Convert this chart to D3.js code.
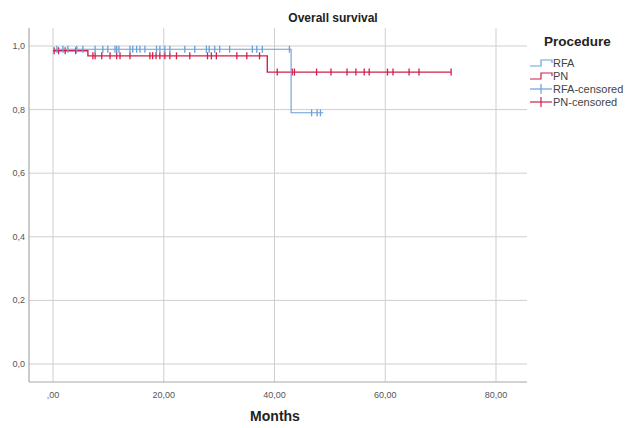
<!DOCTYPE html>
<html>
<head>
<meta charset="utf-8">
<script src="https://cdn.jsdelivr.net/npm/d3@7"></script>
<style>
  body { margin: 0; background: #fff; }
  svg { font-family: Arial, "Liberation Sans", sans-serif; }
</style>
</head>
<body>
<div id="chart"></div>
<script>
// Kaplan-Meier steps: [time, survival after that time]
const rfaSteps = [[0, 0.99], [43.0, 0.79]];
const pnSteps = [[0, 0.985], [6.3, 0.969], [38.7, 0.918]];
const rfaEnd = 48.8;
const pnEnd = 71.9;

const rfaCensored = [0.7, 1.8, 2.7, 4.3, 5.4, 7.6, 9.0, 9.9, 11.2, 11.5, 11.9, 13.9, 14.4, 15.1, 15.7,
  16.6, 18.7, 19.3, 20.2, 21.1, 23.8, 25.6, 27.7, 28.2, 29.2, 30.1, 31.9, 36.0, 36.8, 37.8, 42.7,
  46.7, 47.7, 48.3];
const pnCensored = [0.2, 1.0, 2.2, 4.1, 7.2, 7.6, 8.8, 10.3, 11.5, 12.1, 13.9, 17.5, 18.0, 18.6, 19.3,
  20.2, 21.1, 22.3, 24.7, 27.9, 28.6, 29.5, 33.2, 35.0, 37.3, 40.5, 43.2, 43.6, 47.6, 50.2, 53.1,
  54.7, 56.2, 57.1, 60.4, 61.4, 64.3, 66.1, 71.9];

const xTicks = [0, 20, 40, 60, 80];
const yTicks = [0, 0.2, 0.4, 0.6, 0.8, 1.0];
const legendItems = ["RFA", "PN", "RFA-censored", "PN-censored"];

const rfaColor = "#6a9fd8";
const pnColor = "#d21f4b";
const gridColor = "#cfcfcf";

const width = 628, height = 428;
const plotLeft = 29, plotRight = 527, plotTop = 28, plotBottom = 382;

const svg = d3.select("#chart").append("svg")
    .attr("width", width)
    .attr("height", height);

const x = d3.scaleLinear().domain([0, 80]).range([53, 496]);
const y = d3.scaleLinear().domain([0, 1]).range([364, 46]);

// gridlines
svg.append("g").selectAll("line")
    .data(yTicks)
    .enter().append("line")
    .attr("x1", plotLeft).attr("x2", plotRight)
    .attr("y1", d => y(d)).attr("y2", d => y(d))
    .attr("stroke", gridColor);

svg.append("g").selectAll("line")
    .data(xTicks)
    .enter().append("line")
    .attr("x1", d => x(d)).attr("x2", d => x(d))
    .attr("y1", plotTop).attr("y2", plotBottom)
    .attr("stroke", gridColor);

// axis lines
svg.append("line").attr("x1", plotLeft).attr("x2", plotLeft).attr("y1", plotTop).attr("y2", plotBottom)
    .attr("stroke", "#a8a8a8").attr("stroke-width", 1.2);
svg.append("line").attr("x1", plotLeft).attr("x2", plotRight).attr("y1", plotBottom).attr("y2", plotBottom)
    .attr("stroke", "#a8a8a8").attr("stroke-width", 1.2);

const fmtComma = (v, n) => {
    let s = v.toFixed(n).replace(".", ",");
    if (s.startsWith("0,") && n === 2) s = s.slice(1);
    return s;
};

svg.append("g").selectAll("text")
    .data(yTicks)
    .enter().append("text")
    .attr("x", 25).attr("y", d => y(d) + 3)
    .attr("text-anchor", "end")
    .attr("font-size", "9px")
    .attr("fill", "#555")
    .text(d => fmtComma(d, 1));

svg.append("g").selectAll("text")
    .data(xTicks)
    .enter().append("text")
    .attr("x", d => x(d)).attr("y", 398)
    .attr("text-anchor", "middle")
    .attr("font-size", "9px")
    .attr("fill", "#555")
    .text(d => fmtComma(d, 2));

// titles
svg.append("text").attr("x", 333).attr("y", 22)
    .attr("text-anchor", "middle").attr("font-size", "12px").attr("font-weight", "bold")
    .attr("fill", "#222").text("Overall survival");
svg.append("text").attr("x", 275).attr("y", 421)
    .attr("text-anchor", "middle").attr("font-size", "14px").attr("font-weight", "bold")
    .attr("fill", "#222").text("Months");

// survival curves
function stepPoints(steps, end) {
    const pts = steps.slice();
    pts.push([end, steps[steps.length - 1][1]]);
    return pts;
}
function survAt(steps, t) {
    let s = steps[0][1];
    steps.forEach(d => { if (t >= d[0]) s = d[1]; });
    return s;
}

const line = d3.line()
    .x(d => x(d[0]))
    .y(d => y(d[1]))
    .curve(d3.curveStepAfter);

const series = [
    { steps: pnSteps, end: pnEnd, cens: pnCensored, color: pnColor, w: 1.4 },
    { steps: rfaSteps, end: rfaEnd, cens: rfaCensored, color: rfaColor, w: 1.1 }
];

series.forEach(s => {
    svg.append("path")
        .datum(stepPoints(s.steps, s.end))
        .attr("fill", "none")
        .attr("stroke", s.color)
        .attr("stroke-width", s.w)
        .attr("d", line);

    svg.append("g").selectAll("line")
        .data(s.cens)
        .enter().append("line")
        .attr("x1", d => x(d)).attr("x2", d => x(d))
        .attr("y1", d => y(survAt(s.steps, d)) - 3.5)
        .attr("y2", d => y(survAt(s.steps, d)) + 3.5)
        .attr("stroke", s.color)
        .attr("stroke-width", 1.3);
});

// legend
svg.append("text").attr("x", 544).attr("y", 46)
    .attr("font-size", "13.5px").attr("font-weight", "bold")
    .attr("fill", "#222").text("Procedure");

const legendY = [63, 76, 89, 102];
const legendColors = [rfaColor, pnColor, rfaColor, pnColor];
const lg = svg.append("g");
legendItems.forEach((name, i) => {
    const ly = legendY[i];
    const c = legendColors[i];
    if (i < 2) {
        lg.append("path")
            .attr("d", `M530,${ly + 3}H541V${ly - 3}H552V${ly}`)
            .attr("fill", "none").attr("stroke", c).attr("stroke-width", 1.2);
    } else {
        lg.append("line").attr("x1", 530).attr("x2", 552).attr("y1", ly).attr("y2", ly)
            .attr("stroke", c).attr("stroke-width", 1.2);
        lg.append("line").attr("x1", 541).attr("x2", 541).attr("y1", ly - 5).attr("y2", ly + 5)
            .attr("stroke", c).attr("stroke-width", 1.2);
    }
    lg.append("text").attr("x", 553).attr("y", ly + 4)
        .attr("font-size", "11px").attr("fill", "#444").text(name);
});
</script>
</body>
</html>
